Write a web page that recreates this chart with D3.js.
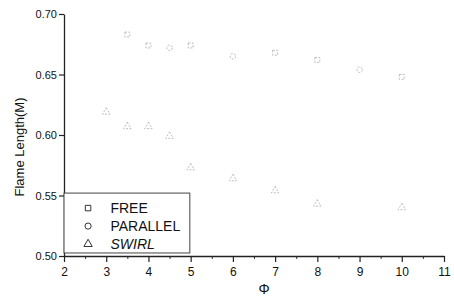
<!DOCTYPE html>
<html>
<head>
<meta charset="utf-8">
<script src="https://cdn.jsdelivr.net/npm/d3@7"></script>
<style>
  body { margin: 0; background: #fff; }
  text { font-family: "Liberation Sans", Arial, sans-serif; fill: #111; }
</style>
</head>
<body>
<div id="chart"></div>
<script>
// values
const freeX = [3.5, 4, 5, 7, 8, 10];
const freeY = [0.683, 0.674, 0.674, 0.668, 0.662, 0.648];
const parallelX = [4.5, 6, 9];
const parallelY = [0.672, 0.665, 0.654];
const swirlX = [3, 3.5, 4, 4.5, 5, 6, 7, 8, 10];
const swirlY = [0.619, 0.607, 0.607, 0.599, 0.573, 0.564, 0.554, 0.543, 0.540];
const xTicks = [2, 3, 4, 5, 6, 7, 8, 9, 10, 11];
const yTicks = [0.50, 0.55, 0.60, 0.65, 0.70];
const legendNames = ["FREE", "PARALLEL", "SWIRL"];

const width = 454, height = 297,
      margin = ({ top: 14, right: 10, bottom: 41, left: 64 });

const svg = d3.select("#chart")
  .append("svg")
  .attr("width", width)
  .attr("height", height);

let x = d3.scaleLinear()
  .domain([2, 11])
  .range([margin.left, width - margin.right]);

let y = d3.scaleLinear()
  .domain([0.50, 0.70])
  .range([height - margin.bottom, margin.top]);

// minor ticks first
svg.append("g")
  .attr("transform", `translate(0,${height - margin.bottom})`)
  .call(d3.axisBottom(x).tickValues(d3.range(2.5, 11, 1)).tickSize(3).tickFormat(""))
  .call(g => g.select(".domain").remove())
  .selectAll("line").attr("stroke", "#333");

svg.append("g")
  .attr("transform", `translate(0,${height - margin.bottom})`)
  .call(d3.axisBottom(x).tickValues(xTicks).tickSize(6).tickSizeOuter(0).tickFormat(d3.format("d")))
  .call(g => g.select(".domain").attr("stroke", "#222").attr("stroke-width", 1.3))
  .call(g => g.selectAll("line").attr("stroke", "#222").attr("stroke-width", 1.2))
  .call(g => g.selectAll("text").attr("font-size", 12).attr("dy", "0.9em"));

svg.append("g")
  .attr("transform", `translate(${margin.left},0)`)
  .call(d3.axisLeft(y).tickValues(yTicks).tickSize(5).tickSizeOuter(0).tickFormat(d3.format(".2f")))
  .call(g => g.select(".domain").attr("stroke", "#222").attr("stroke-width", 1.3))
  .call(g => g.selectAll("line").attr("stroke", "#222").attr("stroke-width", 1.2))
  .call(g => g.selectAll("text").attr("font-size", 11).attr("x", -7));

svg.append("text")
  .attr("text-anchor", "middle")
  .attr("transform", `translate(24,${(margin.top + height - margin.bottom) / 2 + 12}) rotate(-90)`)
  .attr("font-size", 13)
  .text("Flame Length(M)");

svg.append("text")
  .attr("text-anchor", "middle")
  .attr("x", (margin.left + width - margin.right) / 2 + 10)
  .attr("y", 294)
  .attr("font-size", 14)
  .text("Φ");

const sym = [d3.symbolSquare, d3.symbolCircle, d3.symbolTriangle];
const series = [
  { xs: freeX, ys: freeY, s: 0 },
  { xs: parallelX, ys: parallelY, s: 1 },
  { xs: swirlX, ys: swirlY, s: 2 }
];

series.forEach(sr => {
  svg.append("g")
    .selectAll("path")
    .data(sr.xs.map((d, i) => ({ x: d, y: sr.ys[i] })))
    .join("path")
    .attr("transform", d => `translate(${x(d.x)},${y(d.y)})`)
    .attr("d", d3.symbol().type(sym[sr.s]).size(24))
    .attr("fill", "none")
    .attr("stroke", "#aaa")
    .attr("stroke-width", 0.8)
    .attr("stroke-dasharray", "2,1.5");
});

// legend
const lg = svg.append("g");
lg.append("rect")
  .attr("x", x(2))
  .attr("y", y(0.552))
  .attr("width", x(4.98) - x(2))
  .attr("height", y(0.5025) - y(0.552))
  .attr("fill", "#fff")
  .attr("stroke", "#444")
  .attr("stroke-width", 1);

legendNames.forEach((name, i) => {
  const cy = y(0.552) + 15 + i * 18;
  lg.append("path")
    .attr("transform", `translate(${x(2.57)},${cy})`)
    .attr("d", d3.symbol().type(sym[i]).size(30))
    .attr("fill", "none")
    .attr("stroke", "#333")
    .attr("stroke-width", 1);
  lg.append("text")
    .attr("x", x(3.1))
    .attr("y", cy + 5)
    .attr("font-size", 14)
    .attr("font-style", i == 2 ? "italic" : "normal")
    .text(name);
});
</script>
</body>
</html>
